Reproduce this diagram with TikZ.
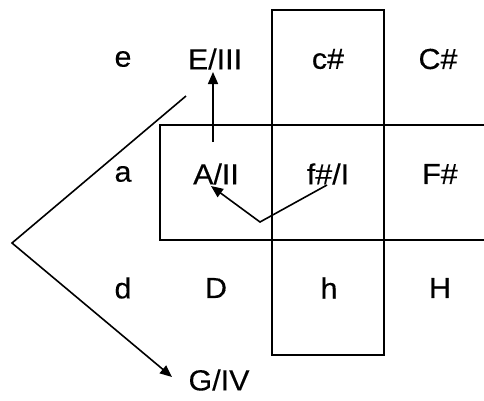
\documentclass[tikz,border=0pt]{standalone}
\usepackage{fontspec}
\setmainfont[FakeStretch=1.05,FakeBold=0.3]{Liberation Sans}
\usepackage{tikz}
\usetikzlibrary{arrows.meta}

\begin{document}
\begin{tikzpicture}[x=1pt, y=-1pt, >={Triangle[length=12pt,width=10pt]},
  font=\fontsize{29}{34}\selectfont,
  key/.style={inner sep=3pt},
  frame/.style={draw, line width=1.6pt},
  sig/.style={->, line width=1.6pt}]
  \useasboundingbox (0,0) rectangle (484,400);
  % the two crossing frames
  \draw[frame] (272,10) rectangle (384,355);
  \draw[frame] (484,125) -- (160,125) -- (160,240) -- (484,240);
  % keys, row by row
  \node[key] (e)   at (123,59)  {e};
  \node[key] (E)   at (215,59)  {E/III};
  \node[key] (cis) at (328,59)  {c\#};
  \node[key] (Cis) at (438,59)  {C\#};
  \node[key] (a)   at (123,174) {a};
  \node[key] (A)   at (216,174) {A/II};
  \node[key] (fis) at (328,174) {f\#/I};
  \node[key] (Fis) at (440,174) {F\#};
  \node[key] (d)   at (123,288) {d};
  \node[key] (D)   at (216,288) {D};
  \node[key] (h)   at (329,288) {h};
  \node[key] (H)   at (440,288) {H};
  \node[key] (G)   at (219,380) {G/IV};
  \coordinate (A-up)    at (213,142);
  \coordinate (E-tip)   at (213,72);
  \coordinate (A-tip)   at (211,186);
  \coordinate (fis-low) at (327,185);
  \coordinate (dip)     at (260,222);
  \coordinate (E-low)   at (186,96);
  \coordinate (corner)  at (12,243);
  \coordinate (G-tip)   at (172,377);
  % cadence arrows
  \draw[sig] (A-up) -- (E-tip);
  \draw[sig] (fis-low) -- (dip) -- (A-tip);
  \draw[sig] (E-low) -- (corner) -- (G-tip);
\end{tikzpicture}
\end{document}
